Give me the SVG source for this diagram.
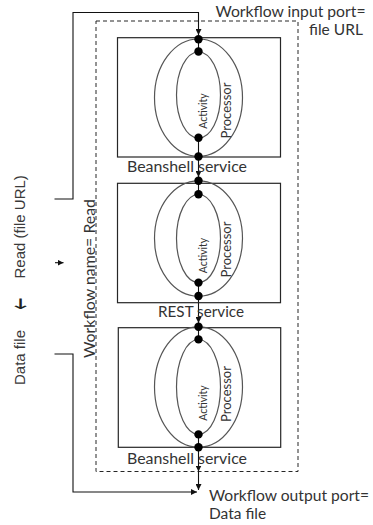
<svg xmlns="http://www.w3.org/2000/svg" width="373" height="525" viewBox="0 0 373 525">
  <style>
    .bg { fill: #ffffff; }
    .box { fill: none; stroke: #262626; stroke-width: 1.2; }
    .scope { fill: none; stroke: #262626; stroke-width: 1; stroke-dasharray: 4 3; }
    .oval { fill: none; stroke: #555555; stroke-width: 1.2; }
    .port { fill: #000000; }
    .wire { fill: none; stroke: #111111; stroke-width: 1.1; }
    .lbl { font-family: Lato, "Open Sans", sans-serif; font-size: 15.5px; fill: #333333; }
    .act { font-family: Lato, "Open Sans", sans-serif; font-size: 10.5px; fill: #333333; text-anchor: middle; }
    .proc { font-family: Lato, "Open Sans", sans-serif; font-size: 13px; fill: #333333; text-anchor: middle; }
    .side { font-family: "Liberation Sans", Arial, sans-serif; font-size: 15px; fill: #3a3a3a; }
    .glyph { font-family: "DejaVu Sans", sans-serif; font-size: 17px; fill: #222222; text-anchor: middle; }
  </style>
  <defs>
    <marker id="arrow" markerWidth="6" markerHeight="6" refX="6" refY="3" orient="auto" markerUnits="userSpaceOnUse">
      <path d="M0,0 L6,3 L0,6 z" fill="#111111"/>
    </marker>
  </defs>

  <rect class="bg" x="0" y="0" width="373" height="525"/>

  <!-- workflow boundary -->
  <g id="workflow">
    <rect class="scope" x="96" y="21" width="202" height="450.5"/>
    <text class="lbl" transform="translate(95,358) rotate(-90)" textLength="159" lengthAdjust="spacingAndGlyphs">Workflow name= Read</text>
  </g>

  <!-- connectors -->
  <g id="connectors">
    <!-- input feed -->
    <polyline class="wire" points="54.5,199 73,199 73,12.5 198.5,12.5 198.5,35" marker-end="url(#arrow)"/>
    <!-- internal port links -->
    <line class="wire" x1="198.5" y1="39" x2="198.5" y2="52"/>
    <line class="wire" x1="198.5" y1="138" x2="198.5" y2="156.5"/>
    <line class="wire" x1="198.5" y1="156.5" x2="198.5" y2="177" marker-end="url(#arrow)"/>
    <line class="wire" x1="198.5" y1="181" x2="198.5" y2="194"/>
    <line class="wire" x1="198.5" y1="282.5" x2="198.5" y2="296"/>
    <line class="wire" x1="198.5" y1="296" x2="198.5" y2="323" marker-end="url(#arrow)"/>
    <line class="wire" x1="198.5" y1="327" x2="198.5" y2="339.5"/>
    <line class="wire" x1="198.5" y1="434.5" x2="198.5" y2="447"/>
    <!-- output feed -->
    <line class="wire" x1="198.5" y1="447" x2="198.5" y2="471.5" marker-end="url(#arrow)"/>
    <line class="wire" x1="198.5" y1="471.5" x2="198.5" y2="490" marker-end="url(#arrow)"/>
    <polyline class="wire" points="54.5,354 73,354 73,492 197,492" marker-end="url(#arrow)"/>
    <!-- small pointer -->
    <line class="wire" x1="55" y1="262.7" x2="63.5" y2="262.7" marker-end="url(#arrow)"/>
  </g>

  <!-- service 1 -->
  <g id="beanshell1">
    <rect class="box" x="117.5" y="37.7" width="163" height="119.3"/>
    <ellipse class="oval" cx="198.5" cy="97.7" rx="44" ry="58.7"/>
    <ellipse class="oval" cx="198.5" cy="95" rx="22" ry="43"/>
    <circle class="port" cx="198.5" cy="39.3" r="4.2"/>
    <circle class="port" cx="198.5" cy="51.5" r="4.2"/>
    <circle class="port" cx="198.5" cy="137.8" r="4.2"/>
    <circle class="port" cx="198.5" cy="156.5" r="4.2"/>
    <text class="act" transform="translate(207,111) rotate(-90)">Activity</text>
    <text class="proc" transform="translate(230.5,110.5) rotate(-90)">Processor</text>
    <text class="lbl" x="127" y="172.3" textLength="120" lengthAdjust="spacingAndGlyphs">Beanshell service</text>
  </g>

  <!-- service 2 -->
  <g id="rest">
    <rect class="box" x="117.5" y="183.3" width="163" height="119.4"/>
    <ellipse class="oval" cx="198.5" cy="238.5" rx="44" ry="57.7"/>
    <ellipse class="oval" cx="198.5" cy="238.5" rx="22" ry="44"/>
    <circle class="port" cx="198.5" cy="180.8" r="4.2"/>
    <circle class="port" cx="198.5" cy="194.3" r="4.2"/>
    <circle class="port" cx="198.5" cy="282.6" r="4.2"/>
    <circle class="port" cx="198.5" cy="296" r="4.2"/>
    <text class="act" transform="translate(207,255.5) rotate(-90)">Activity</text>
    <text class="proc" transform="translate(230.5,249.5) rotate(-90)">Processor</text>
    <text class="lbl" x="158" y="317" textLength="86" lengthAdjust="spacingAndGlyphs">REST service</text>
  </g>

  <!-- service 3 -->
  <g id="beanshell2">
    <rect class="box" x="118.3" y="327.7" width="162.4" height="119.6"/>
    <ellipse class="oval" cx="198.5" cy="387" rx="44" ry="60.2"/>
    <ellipse class="oval" cx="198.5" cy="387" rx="22" ry="47.5"/>
    <circle class="port" cx="198.5" cy="326.8" r="4.2"/>
    <circle class="port" cx="198.5" cy="339.4" r="4.2"/>
    <circle class="port" cx="198.5" cy="434.4" r="4.2"/>
    <circle class="port" cx="198.5" cy="447.2" r="4.2"/>
    <text class="act" transform="translate(207,403) rotate(-90)">Activity</text>
    <text class="proc" transform="translate(230.5,394) rotate(-90)">Processor</text>
    <text class="lbl" x="127" y="464" textLength="120" lengthAdjust="spacingAndGlyphs">Beanshell service</text>
  </g>

  <!-- port labels -->
  <g id="input-port">
    <text class="lbl" x="215.5" y="17" textLength="150" lengthAdjust="spacingAndGlyphs">Workflow input port=</text>
    <text class="lbl" x="309" y="35" textLength="54" lengthAdjust="spacing">file URL</text>
  </g>
  <g id="output-port">
    <text class="lbl" x="209" y="500.5" textLength="160" lengthAdjust="spacingAndGlyphs">Workflow output port=</text>
    <text class="lbl" x="209" y="518.5">Data file</text>
  </g>

  <!-- side caption -->
  <g id="caption">
    <text class="side" transform="translate(25,278.5) rotate(-90)">Read  (file URL)</text>
    <text class="glyph" transform="translate(20,309) scale(1.7,0.85)">↓</text>
    <text class="side" transform="translate(25,385) rotate(-90)">Data file</text>
  </g>
</svg>
